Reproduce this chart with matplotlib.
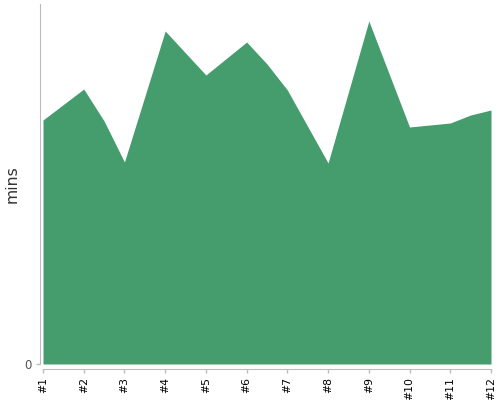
import matplotlib
matplotlib.use("Agg")
import matplotlib.pyplot as plt

# data
run_pos = [1, 2, 2.5, 3, 4, 5, 6, 6.5, 7, 8, 9, 10, 11, 11.5, 12]
mins = [244, 275, 243, 202, 333, 289, 322, 300, 274, 201, 343, 237, 241, 249, 254]
tick_pos = list(range(1, 13))
tick_labels = [f"#{i}" for i in tick_pos]
y_max = 360

fill_color = "#459c6d"
axis_color = "#bbbbbb"

fig = plt.figure(figsize=(5, 4), dpi=100)
ax = fig.add_axes([0.086, 0.09, 0.896, 0.90])
ax.fill_between(run_pos, 0, mins, color=fill_color, linewidth=0)
ax.set_xlim(1, 12)
ax.set_ylim(0, y_max)

for s in ["top", "right"]:
    ax.spines[s].set_visible(False)
ax.spines["left"].set_position(("outward", 2.2))
ax.spines["left"].set_bounds(0, y_max)
ax.spines["left"].set_color(axis_color)
ax.spines["bottom"].set_position(("outward", 3.6))
ax.spines["bottom"].set_color(axis_color)

ax.set_xticks(tick_pos)
ax.set_xticklabels(tick_labels, rotation=90, fontsize=7.8, color="black")
ax.set_yticks([0])
ax.set_yticklabels(["0"], fontsize=8.5, color="#555555")
ax.tick_params(axis="x", length=3, width=1, color=axis_color, pad=3)
ax.tick_params(axis="y", length=3, width=1, color=axis_color, pad=3)

ax.set_ylabel("mins", fontsize=11.3, color="#333333")
ax.yaxis.set_label_coords(-0.053, 0.5)

fig.savefig("out.png", dpi=100)
